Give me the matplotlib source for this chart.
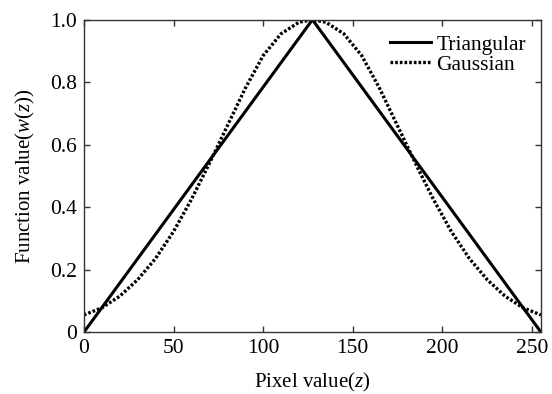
import numpy as np
import matplotlib
matplotlib.use('Agg')
import matplotlib.pyplot as plt

plt.rcParams['font.family'] = ['Liberation Serif', 'DejaVu Serif']
plt.rcParams['mathtext.fontset'] = 'custom'
plt.rcParams['mathtext.rm'] = 'Liberation Serif'
plt.rcParams['mathtext.it'] = 'Liberation Serif:italic'

# triangular weighting function (corner points)
tri_z = [0, 127.5, 255]
tri_w = [0, 1.0, 0]

# gaussian weighting function
gauss_z = [0, 10, 20, 30, 40, 50, 60, 70, 80, 90, 100, 110, 120, 127.5,
           135, 145, 155, 165, 175, 185, 195, 205, 215, 225, 235, 245, 255]
gauss_w = [0.055, 0.078, 0.115, 0.168, 0.236, 0.322, 0.425, 0.54, 0.66, 0.78, 0.885, 0.955, 0.992, 1.0,
           0.992, 0.955, 0.885, 0.78, 0.66, 0.54, 0.425, 0.322, 0.236, 0.168, 0.115, 0.078, 0.055]

xticks = [0, 50, 100, 150, 200, 250]
yticks = [0, 0.2, 0.4, 0.6, 0.8, 1.0]
ytick_labels = ['0', '0.2', '0.4', '0.6', '0.8', '1.0']

fig = plt.figure(figsize=(5.52, 3.94), dpi=100)
ax = fig.add_axes([0.152, 0.157, 0.828, 0.793])

ax.plot(tri_z, tri_w, color='black', lw=2.2, label='Triangular')
ax.plot(gauss_z, gauss_w, color='black', lw=2.4, linestyle=(0, (0.8, 0.6)), label='Gaussian')

ax.set_xlim(0, 255)
ax.set_ylim(0, 1.0)
ax.set_xticks(xticks)
ax.set_yticks(yticks)
ax.set_yticklabels(ytick_labels)
ax.tick_params(direction='in', length=4, width=1, top=True, right=True,
               labelsize=15.5, pad=5, color='#333333')
for s in ax.spines.values():
    s.set_color('#333333')
    s.set_linewidth(1)

ax.set_xlabel('Pixel value($z$)', fontsize=15, labelpad=9)
ax.set_ylabel('Function value($w$($z$))', fontsize=15, labelpad=9)

ax.legend(loc='upper right', frameon=False, fontsize=15.5, handlelength=1.9,
          handletextpad=0.25, borderaxespad=0.3, labelspacing=0.0)

fig.savefig('out.png', dpi=100)
